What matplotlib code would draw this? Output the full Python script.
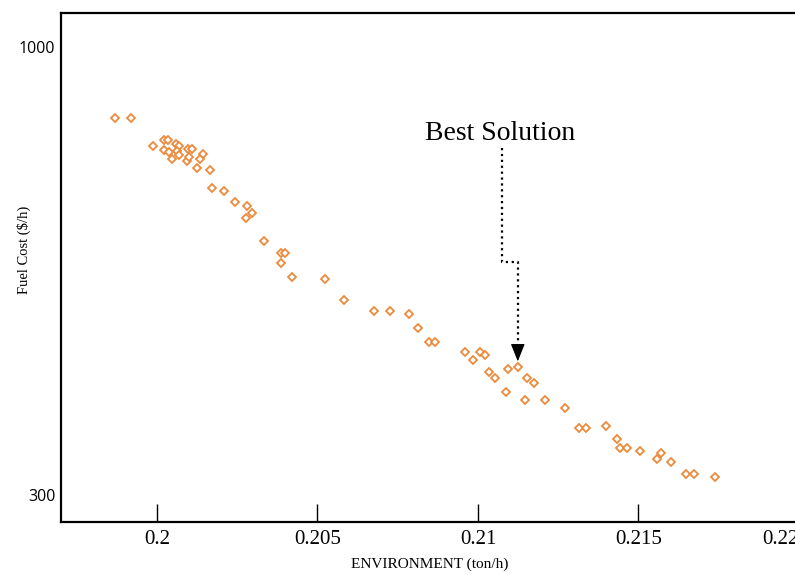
import matplotlib
matplotlib.use("Agg")
import matplotlib.pyplot as plt

# Pareto front points
environment = [0.19868, 0.19918, 0.19987, 0.20021, 0.20033, 0.20021, 0.20036, 0.20046,
               0.20058, 0.20068, 0.20061, 0.20068, 0.20096, 0.20108, 0.20093, 0.20099,
               0.20133, 0.20142, 0.20124, 0.20164, 0.20170, 0.20208, 0.20242, 0.20279,
               0.20295, 0.20276, 0.20332, 0.20385, 0.20398, 0.20385, 0.20420, 0.20522,
               0.20582, 0.20675, 0.20725, 0.20784, 0.20812, 0.20846, 0.20865, 0.20961,
               0.20983, 0.21005, 0.21021, 0.21033, 0.21052, 0.21088, 0.21093, 0.21124,
               0.21145, 0.21152, 0.21174, 0.21208, 0.21272, 0.21314, 0.21335, 0.21400,
               0.21432, 0.21441, 0.21463, 0.21504, 0.21557, 0.21569, 0.21600, 0.21647,
               0.21672, 0.21737]
fuel_cost = [889, 889, 845, 854, 854, 839, 836, 825,
             848, 845, 837, 831, 840, 840, 822, 828,
             825, 832, 811, 807, 779, 775, 758, 751,
             740, 733, 697, 678, 678, 662, 640, 637,
             604, 587, 587, 583, 561, 539, 539, 523,
             511, 523, 518, 492, 482, 461, 496, 500,
             448, 483, 475, 448, 436, 405, 405, 407,
             387, 373, 373, 369, 356, 366, 352, 333,
             333, 328]

best_env = 0.21124
best_cost = 500
label_env = 0.21074
label_top = 842
label_jog = 664
label_text_y = 864

x_ticks = [0.2, 0.205, 0.21, 0.215, 0.22]
x_tick_labels = ["0.2", "0.205", "0.21", "0.215", "0.22"]
y_ticks = [300, 1000]

fig = plt.figure(figsize=(7.95, 5.75), dpi=100)
ax = fig.add_axes([61 / 795, 53.3 / 575, 738 / 795, 509 / 575])

ax.plot(environment, fuel_cost, ls="none", marker="D", ms=4.2, mfc="white",
        mec="#ec8a3c", mew=1.3)

# dotted leader with a solid head pointing at the best solution
ax.plot([label_env, label_env, best_env, best_env],
        [label_top, label_jog, label_jog, best_cost + 30],
        ls=":", color="black", lw=1.6)
ax.annotate("", xy=(best_env, best_cost), xytext=(0, 15), textcoords="offset points",
            arrowprops=dict(arrowstyle="-|>,head_length=1.0,head_width=0.4",
                            lw=0.8, color="black", shrinkA=0, shrinkB=4,
                            mutation_scale=11))
ax.text(label_env - 0.00005, label_text_y, "Best Solution", ha="center", va="center",
        family="Liberation Serif", fontsize=20)

ax.set_xlim(0.19701, 0.22)
ax.set_ylim(258.3, 1053.1)

ax.set_xticks(x_ticks)
ax.set_xticklabels(x_tick_labels, family="Liberation Serif", fontsize=15)
ax.get_xticklabels()[-1].set_horizontalalignment("right")
ax.tick_params(axis="x", direction="in", length=13, width=1, pad=6)

ax.set_yticks(y_ticks)
ax.set_yticklabels([str(v) for v in y_ticks], family="Open Sans", fontsize=11.5)
ax.tick_params(axis="y", length=0, pad=4)

for s in ax.spines.values():
    s.set_linewidth(1.6)

ax.set_xlabel("ENVIRONMENT (ton/h)", family="Liberation Serif", fontsize=11, labelpad=6)
ax.set_ylabel("Fuel Cost ($/h)", family="Liberation Serif", fontsize=10.5)
ax.yaxis.set_label_coords(-0.041, 0.535)

fig.savefig("out.png", dpi=100)
